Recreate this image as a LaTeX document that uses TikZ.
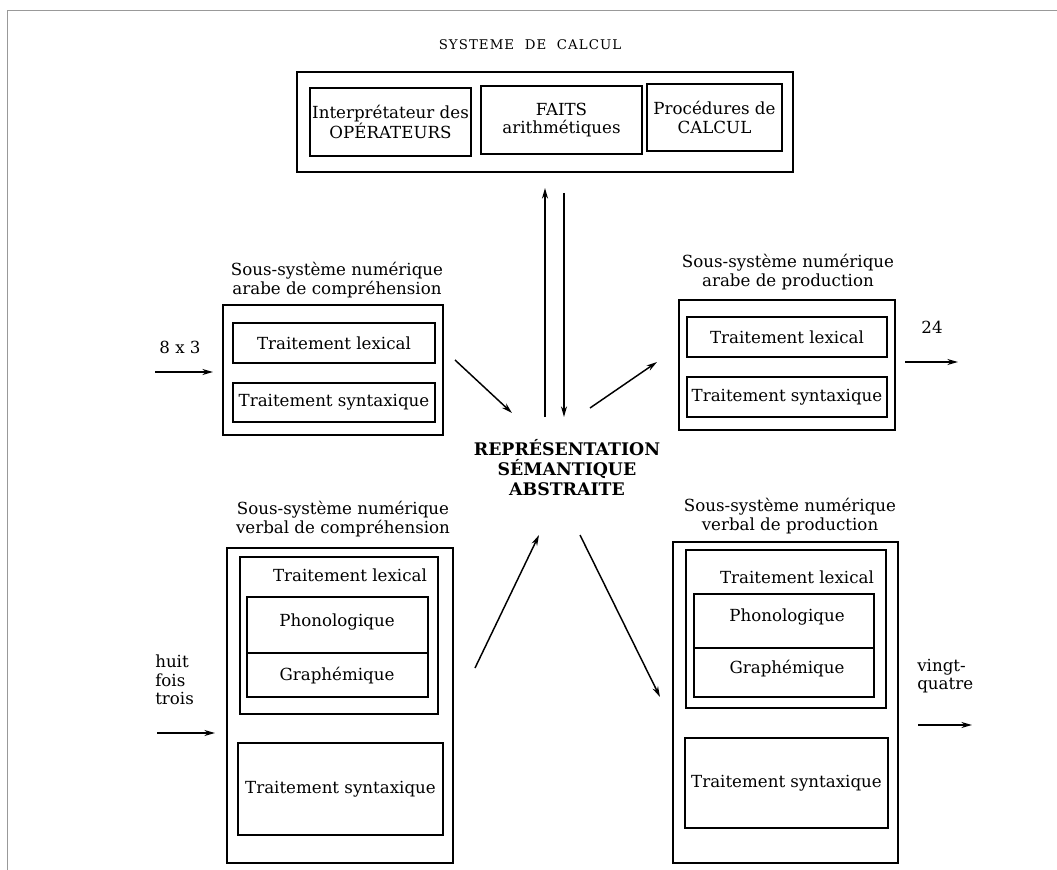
\documentclass[tikz,border=0pt]{standalone}
\usepackage{fontspec}
\setmainfont{DejaVu Serif}
\newfontfamily\titlefont[LetterSpace=8]{DejaVu Serif}
\usetikzlibrary{arrows.meta,fit}
\tikzset{
  box/.style={draw, line width=1pt, inner sep=0pt},
  outerbox/.style={draw, line width=1.3pt, inner sep=0pt},
  txt/.style={font=\fontsize{12.5}{14}\selectfont, align=center, inner sep=0pt},
  arr/.style={line width=1.1pt, -{Stealth[length=8pt,width=4.5pt]}},
}
\begin{document}
\begin{tikzpicture}[x=0.75pt,y=-0.75pt]
\useasboundingbox (0,0) rectangle (1057,870);
% page frame
\draw[black!40, line width=0.5pt] (7,870) -- (7,10) -- (1057,10);

% ===== Systeme de calcul =====
\node[font=\titlefont\fontsize{10}{12}\selectfont, inner sep=0pt] (title) at (530,45) {SYSTEME\ \ DE\ \ CALCUL};
\node[outerbox, fit={(297,72) (793,172)}] (calc) {};
\node[box, fit={(310,88) (471,156)}] (opbox) {};
\node[box, fit={(481,86) (642,154)}] (faitsbox) {};
\node[box, fit={(647,84) (782,151)}] (procbox) {};
\node[txt] (opT) at (opbox.center) {Interprétateur des\\OPÉRATEURS};
\node[txt] (faitsT) at (faitsbox.center) {FAITS\\arithmétiques};
\node[txt] (procT) at (procbox.center) {Procédures de\\CALCUL};

% ===== centre =====
\node[font=\fontsize{13}{15}\selectfont\bfseries, align=center, inner sep=0pt] (rsa) at (567,468) {REPRÉSENTATION\\SÉMANTIQUE\\ABSTRAITE};

% vertical arrows
\coordinate (upA) at (545,417); \coordinate (upB) at (545,188);
\coordinate (dnA) at (564,193); \coordinate (dnB) at (564,417);
\draw[arr] (upA) -- (upB);
\draw[arr] (dnA) -- (dnB);

% ===== arabe comprehension =====
\node[txt] (acL) at (337,280) {Sous-système numérique\\arabe de compréhension};
\node[outerbox, fit={(223,305) (443,435)}] (acbox) {};
\node[box, fit={(233,323) (435,363)}] (aclex) {};
\node[box, fit={(233,383) (435,422)}] (acsyn) {};
\node[txt] (aclexT) at (aclex.center) {Traitement lexical};
\node[txt] (acsynT) at (acsyn.center) {Traitement syntaxique};
\node[txt] (in1) at (180,347) {8 x 3};
\coordinate (in1a) at (155,372); \coordinate (in1b) at (213,372);
\draw[arr] (in1a) -- (in1b);

% ===== arabe production =====
\node[txt] (apL) at (788,272) {Sous-système numérique\\arabe de production};
\node[outerbox, fit={(679,300) (895,430)}] (apbox) {};
\node[box, fit={(687,317) (887,357)}] (aplex) {};
\node[box, fit={(687,377) (887,417)}] (apsyn) {};
\node[txt] (aplexT) at (aplex.center) {Traitement lexical};
\node[txt] (apsynT) at (apsyn.center) {Traitement syntaxique};
\node[txt] (out1) at (932,327) {24};
\coordinate (out1a) at (905,362); \coordinate (out1b) at (958,362);
\draw[arr] (out1a) -- (out1b);

% diagonal arrows upper
\coordinate (ulA) at (455,360); \coordinate (ulB) at (512,413);
\coordinate (urA) at (590,408); \coordinate (urB) at (657,362);
\draw[arr] (ulA) -- (ulB);
\draw[arr] (urA) -- (urB);

% diagonal arrows lower
\coordinate (llA) at (475,668); \coordinate (llB) at (539,535);
\coordinate (lrA) at (580,535); \coordinate (lrB) at (660,697);
\draw[arr] (llA) -- (llB);
\draw[arr] (lrA) -- (lrB);

% ===== verbal comprehension =====
\node[txt] (vcL) at (343,519) {Sous-système numérique\\verbal de compréhension};
\node[outerbox, fit={(227,548) (453,863)}] (vcbox) {};
\node[box, fit={(240,557) (438,714)}] (vclex) {};
\node[txt] (vclexT) at (350,575) {Traitement lexical};
\node[box, fit={(247,597) (428,653)}] (vcphon) {};
\node[box, fit={(247,653) (428,697)}] (vcgraph) {};
\node[txt] (vcphonT) at (337,622) {Phonologique};
\node[txt] (vcgraphT) at (337,676) {Graphémique};
\node[box, fit={(238,743) (443,835)}] (vcsyn) {};
\node[txt] (vcsynT) at (vcsyn.center) {Traitement syntaxique};
\node[txt, align=left, anchor=west] (in2) at (155,680) {huit\\fois\\trois};
\coordinate (in2a) at (157,733); \coordinate (in2b) at (215,733);
\draw[arr] (in2a) -- (in2b);

% ===== verbal production =====
\node[txt] (vpL) at (790,516) {Sous-système numérique\\verbal de production};
\node[outerbox, fit={(673,542) (898,863)}] (vpbox) {};
\node[box, fit={(686,550) (886,708)}] (vplex) {};
\node[txt] (vplexT) at (797,577) {Traitement lexical};
\node[box, fit={(694,594) (874,648)}] (vpphon) {};
\node[box, fit={(694,648) (874,697)}] (vpgraph) {};
\node[txt] (vpphonT) at (787,617) {Phonologique};
\node[txt] (vpgraphT) at (787,669) {Graphémique};
\node[box, fit={(685,738) (888,828)}] (vpsyn) {};
\node[txt] (vpsynT) at (vpsyn.center) {Traitement syntaxique};
\node[txt, align=left, anchor=west] (out2) at (917,676) {vingt-\\quatre};
\coordinate (out2a) at (918,725); \coordinate (out2b) at (972,725);
\draw[arr] (out2a) -- (out2b);
\end{tikzpicture}
\end{document}
